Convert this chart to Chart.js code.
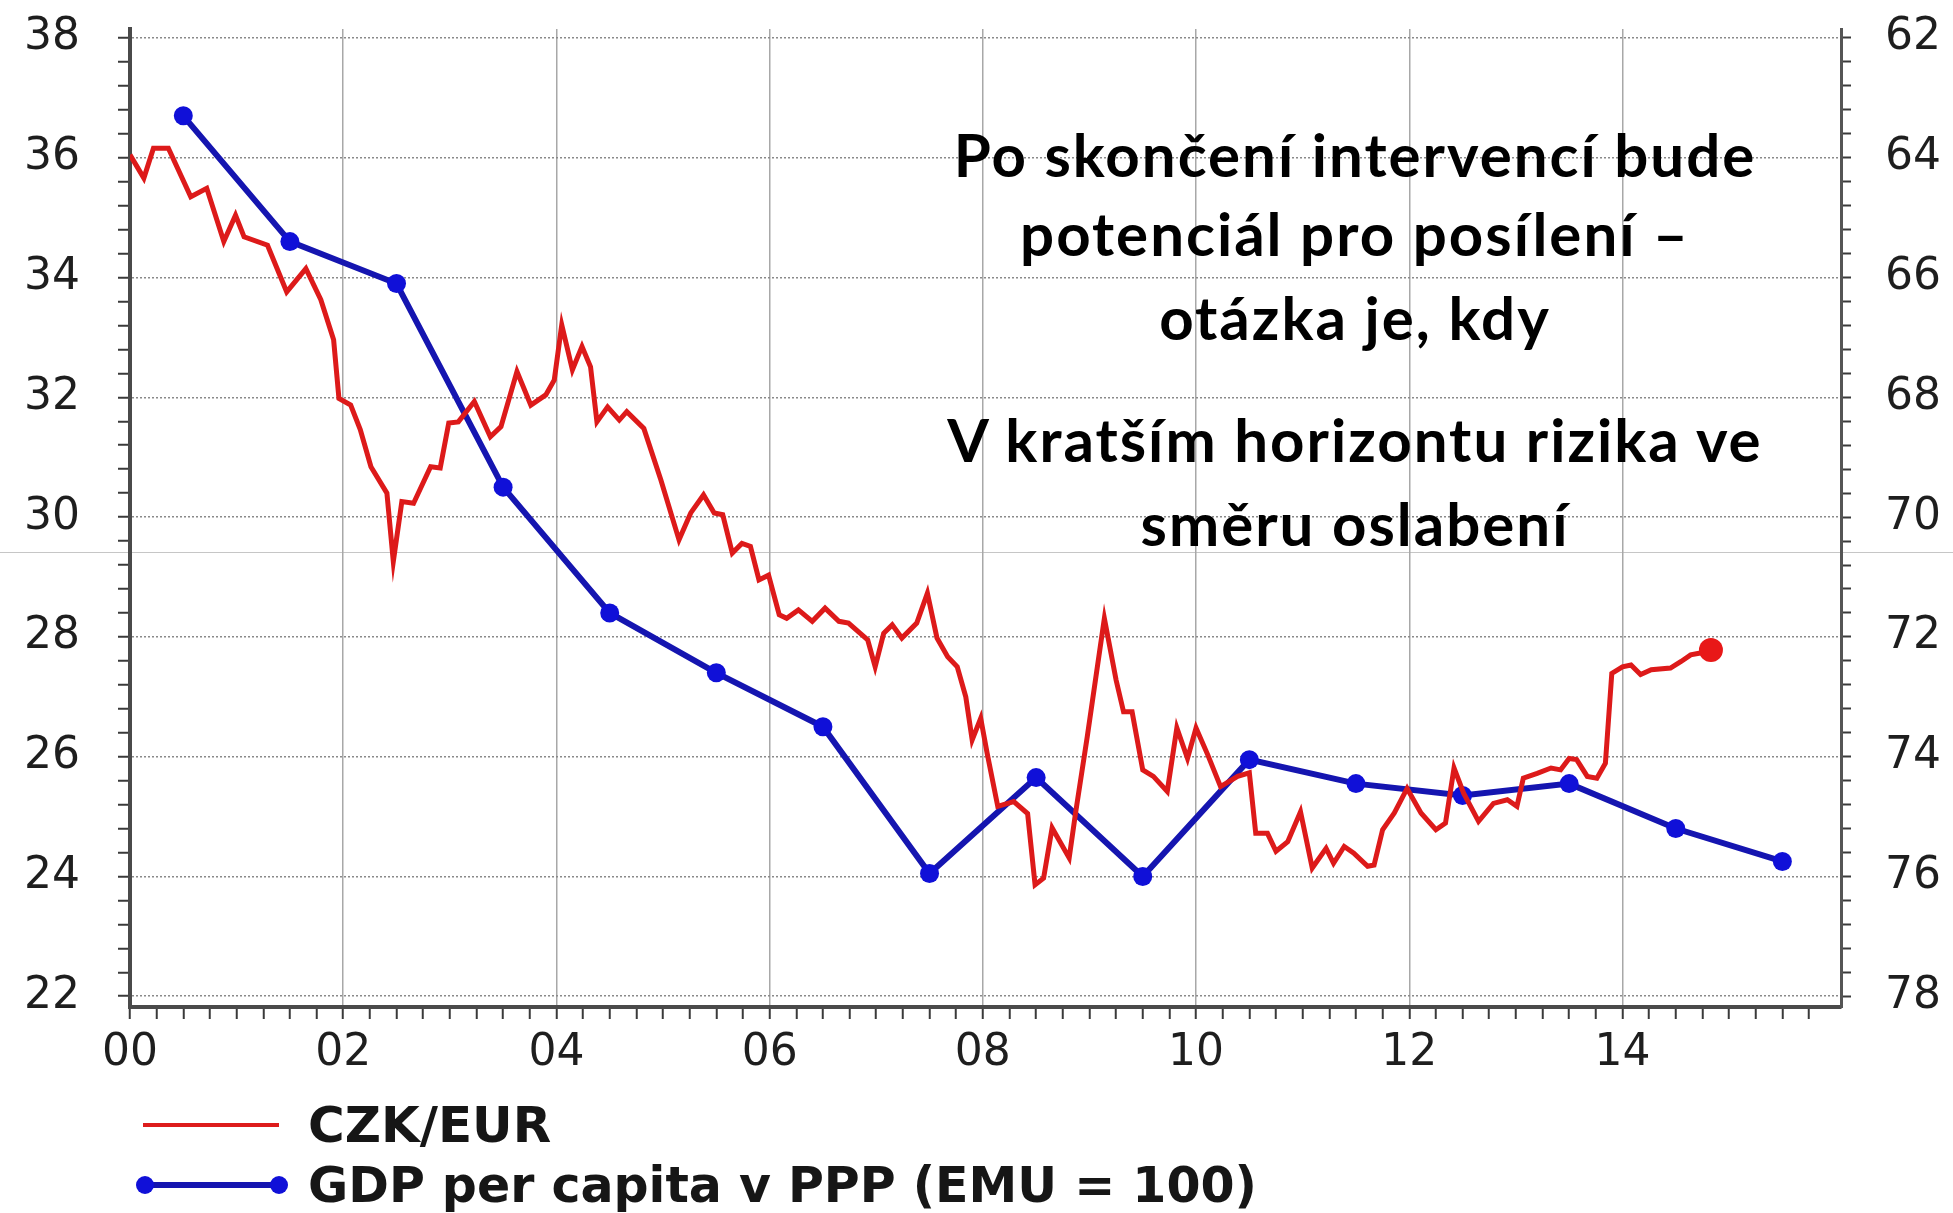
<html>
<head>
<meta charset="utf-8">
<title>CZK/EUR a GDP per capita</title>
<script src="https://cdn.jsdelivr.net/npm/chart.js@4.4.1/dist/chart.umd.min.js"></script>
<style>
  body { margin: 0; background: #fff; }
  #wrap { position: relative; width: 1953px; height: 1213px; overflow: hidden; }
  #chart { position: absolute; left: 0; top: 0; }
  .seam { position: absolute; left: 0; top: 552px; width: 1953px; height: 1px; background: #c6c6c6; }
  .note { position: absolute; left: 855px; width: 1000px; text-align: center;
          font-family: Lato, "Open Sans", sans-serif; font-weight: 700; font-size: 60px;
          letter-spacing: 2px; line-height: 58px; color: #000; white-space: nowrap; }
  .leg { position: absolute; left: 308px; font-family: "DejaVu Sans", sans-serif; font-weight: 700;
         font-size: 50px; line-height: 50px; color: #161616; white-space: nowrap; }
  .legline { position: absolute; left: 143px; width: 136px; }
  .dot { position: absolute; width: 18px; height: 18px; border-radius: 50%; background: #1010d8; top: -6px; }
</style>
</head>
<body>
<div id="wrap">
  <div class="seam"></div>
  <canvas id="chart" width="1953" height="1213"></canvas>

  <div class="note" style="top:125px">Po skončení intervencí bude</div>
  <div class="note" style="top:204px">potenciál pro posílení –</div>
  <div class="note" style="top:288px">otázka je, kdy</div>
  <div class="note" style="top:410px">V kratším horizontu rizika ve</div>
  <div class="note" style="top:494px">směru oslabení</div>

  <div class="legline" style="top:1123px;height:4px;background:#dd1c1c"></div>
  <div class="leg" style="top:1100px">CZK/EUR</div>
  <div class="legline" style="top:1182px;height:6px;background:#1515b0">
    <div class="dot" style="left:-7px"></div><div class="dot" style="left:127px"></div>
  </div>
  <div class="leg" style="top:1161px;font-size:49px">GDP per capita v PPP (EMU = 100)</div>
</div>

<script>
  // CZK/EUR (years since 2000, CZK per EUR)
  var czkYears = [0.00, 0.13, 0.22, 0.36, 0.57, 0.72, 0.88, 0.99, 1.07, 1.29, 1.47, 1.65, 1.79, 1.91, 1.96,
    2.07, 2.16, 2.26, 2.41, 2.47, 2.55, 2.66, 2.82, 2.91, 2.99, 3.08, 3.23, 3.38, 3.48, 3.63, 3.76, 3.90,
    3.98, 4.05, 4.15, 4.24, 4.32, 4.38, 4.48, 4.59, 4.66, 4.82, 4.98, 5.15, 5.26, 5.38, 5.48, 5.56, 5.65,
    5.74, 5.82, 5.90, 5.99, 6.09, 6.16, 6.27, 6.40, 6.52, 6.65, 6.74, 6.92, 6.99, 7.07, 7.15, 7.24, 7.38,
    7.48, 7.57, 7.67, 7.76, 7.84, 7.90, 7.98, 8.04, 8.14, 8.29, 8.42, 8.49, 8.57, 8.65, 8.81, 8.87, 8.98,
    9.14, 9.25, 9.32, 9.40, 9.50, 9.60, 9.73, 9.82, 9.92, 10.00, 10.11, 10.23, 10.39, 10.50, 10.56, 10.67,
    10.75, 10.86, 10.98, 11.09, 11.22, 11.29, 11.39, 11.48, 11.61, 11.67, 11.75, 11.86, 11.98, 12.11, 12.25,
    12.34, 12.42, 12.51, 12.65, 12.79, 12.92, 13.01, 13.07, 13.20, 13.33, 13.42, 13.50, 13.57, 13.67, 13.76,
    13.84, 13.90, 14.00, 14.08, 14.17, 14.27, 14.45, 14.55, 14.64, 14.73, 14.83];
  var czkRates = [36.05, 35.66, 36.16, 36.16, 35.35, 35.49, 34.60, 35.04, 34.68, 34.54, 33.76, 34.15, 33.63, 32.96, 31.98,
    31.87, 31.46, 30.84, 30.40, 29.26, 30.26, 30.23, 30.84, 30.82, 31.57, 31.59, 31.93, 31.34, 31.51, 32.43, 31.87, 32.04,
    32.29, 33.21, 32.46, 32.85, 32.51, 31.59, 31.84, 31.62, 31.76, 31.48, 30.62, 29.62, 30.07, 30.37, 30.07, 30.04, 29.40,
    29.56, 29.51, 28.95, 29.03, 28.37, 28.31, 28.45, 28.26, 28.48, 28.26, 28.23, 27.95, 27.50, 28.06, 28.20, 27.98, 28.23,
    28.73, 27.98, 27.67, 27.50, 27.00, 26.28, 26.64, 26.06, 25.17, 25.25, 25.05, 23.86, 23.97, 24.81, 24.31, 25.06, 26.34,
    28.31, 27.28, 26.75, 26.75, 25.78, 25.67, 25.42, 26.48, 25.97, 26.48, 26.03, 25.50, 25.67, 25.73, 24.72, 24.72,
    24.42, 24.58, 25.08, 24.14, 24.47, 24.22, 24.50, 24.39, 24.17, 24.19, 24.78, 25.06, 25.47, 25.06, 24.78,
    24.89, 25.81, 25.39, 24.92, 25.22, 25.28, 25.17, 25.64, 25.72, 25.81, 25.78, 25.97, 25.95, 25.67, 25.64,
    25.89, 27.39, 27.50, 27.53, 27.37, 27.45, 27.48, 27.59, 27.70, 27.73, 27.78];

  // GDP per capita in PPP (EMU = 100), mid-year points, right (reversed) axis
  var gdpYears = [0.5, 1.5, 2.5, 3.5, 4.5, 5.5, 6.5, 7.5, 8.5, 9.5, 10.5, 11.5, 12.5, 13.5, 14.5, 15.5];
  var gdpLevels = [63.3, 65.4, 66.1, 69.5, 71.6, 72.6, 73.5, 75.95, 74.35, 76.0, 74.05, 74.45, 74.65, 74.45, 75.2, 75.75];

  // tick labels
  var xTickYears = [0, 2, 4, 6, 8, 10, 12, 14];
  var xTickLabels = ['00', '02', '04', '06', '08', '10', '12', '14'];
  var leftTicks = [22, 24, 26, 28, 30, 32, 34, 36, 38];
  var rightTicks = [62, 64, 66, 68, 70, 72, 74, 76, 78];

  var textColor = '#1e1e1e';
  var tickFont = { family: 'DejaVu Sans', size: 44 };

  function minorTicks(from, to, step) {
    var out = [];
    for (var k = 0; from + k * step <= to + 1e-9; k++) {
      out.push({ value: Math.round((from + k * step) * 100) / 100 });
    }
    return out;
  }
  function isIn(list, v) {
    return list.some(function (t) { return Math.abs(t - v) < 1e-6; });
  }

  var ctx = document.getElementById('chart').getContext('2d');

  let chart = new Chart(ctx, {
    type: 'line',
    data: {
      datasets: [{
        label: 'CZK/EUR',
        data: czkYears.map(function (x, i) { return { x: x, y: czkRates[i] }; }),
        yAxisID: 'y',
        borderColor: '#dd1a1a',
        backgroundColor: '#e81818',
        borderWidth: 5,
        tension: 0,
        pointRadius: function (c) { return c.dataIndex === czkYears.length - 1 ? 12 : 0; },
        pointBorderWidth: 0
      }, {
        label: 'GDP per capita v PPP (EMU = 100)',
        data: gdpYears.map(function (x, i) { return { x: x, y: gdpLevels[i] }; }),
        yAxisID: 'y2',
        borderColor: '#1515b0',
        backgroundColor: '#1010d8',
        borderWidth: 6,
        tension: 0,
        pointRadius: 9.5,
        pointBorderWidth: 0
      }]
    },
    options: {
      animation: false,
      responsive: false,
      events: [],
      layout: { padding: { top: 29, bottom: 126, left: 0, right: 0 } },
      plugins: { legend: { display: false }, tooltip: { enabled: false } },
      scales: {
        x: {
          type: 'linear', position: 'bottom', min: 0, max: 16.05,
          afterBuildTicks: function (s) { s.ticks = minorTicks(0, 15.75, 0.25); },
          afterFit: function (s) { s.height = 80; s.paddingLeft = 0; s.paddingRight = 0; },
          ticks: {
            autoSkip: false, maxRotation: 0, padding: 8, color: textColor, font: tickFont,
            callback: function (v) {
              var i = xTickYears.findIndex(function (t) { return Math.abs(t - v) < 1e-6; });
              return i >= 0 ? xTickLabels[i] : '';
            }
          },
          grid: {
            color: function (c) { return isIn(xTickYears, c.tick.value) ? '#a8a8a8' : 'rgba(0,0,0,0)'; },
            lineWidth: 1.5, tickColor: '#3a3a3a', tickWidth: 2, tickLength: 12
          },
          border: { display: true, color: '#4a4a4a', width: 4 }
        },
        y: {
          position: 'left', min: 21.82, max: 38.15,
          afterBuildTicks: function (s) { s.ticks = minorTicks(22, 38, 0.4); },
          afterFit: function (s) { s.width = 130; s.paddingTop = 0; s.paddingBottom = 0; },
          ticks: {
            autoSkip: false, padding: 38, color: textColor, font: tickFont,
            callback: function (v) { return isIn(leftTicks, v) ? String(Math.round(v)) : ''; }
          },
          grid: {
            color: function (c) { return isIn(leftTicks, c.tick.value) ? '#8a8a8a' : 'rgba(0,0,0,0)'; },
            lineWidth: 1.5, tickColor: '#3a3a3a', tickWidth: 2, tickLength: 12
          },
          border: { display: true, color: '#4a4a4a', width: 4, dash: [2, 2] }
        },
        y2: {
          position: 'right', min: 61.85, max: 78.18, reverse: true,
          afterBuildTicks: function (s) { s.ticks = minorTicks(62, 78, 0.4); },
          afterFit: function (s) { s.width = 112; s.paddingTop = 0; s.paddingBottom = 0; },
          ticks: {
            autoSkip: false, padding: 34, color: textColor, font: tickFont,
            callback: function (v) { return isIn(rightTicks, v) ? String(Math.round(v)) : ''; }
          },
          grid: { drawOnChartArea: false, tickColor: '#3a3a3a', tickWidth: 2, tickLength: 10 },
          border: { display: true, color: '#555', width: 3 }
        }
      }
    }
  });
</script>
</body>
</html>
